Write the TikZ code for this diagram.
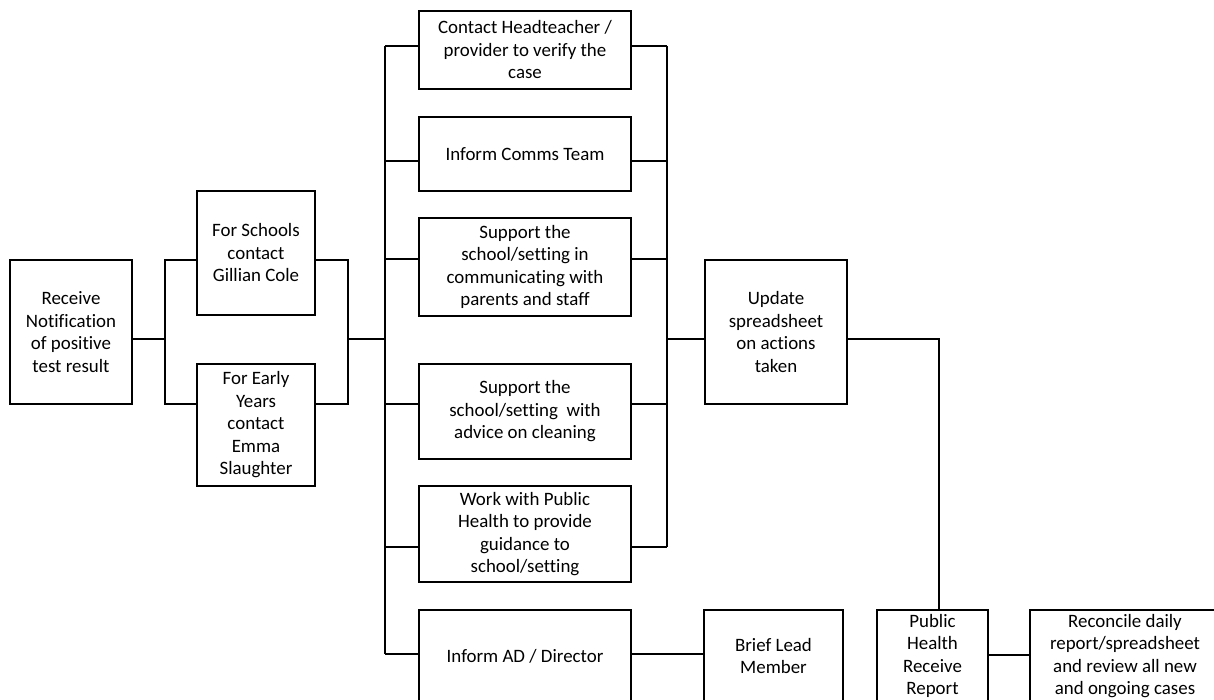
\documentclass[tikz,border=0pt]{standalone}
\usepackage{fontspec}
\setmainfont{Carlito}[Ligatures=NoCommon]
\begin{document}
\begin{tikzpicture}[x=1pt,y=-1pt,
  box/.style={draw,line width=2.3pt,inner sep=0pt,align=center,
    font=\fontsize{18.9}{22.5}\selectfont},
  conn/.style={line width=2.3pt}]
\useasboundingbox (0,0) rectangle (1214,700);
% boxes
\node[box,minimum width=122,minimum height=144] (rec) at (71,332) {Receive\\Notification\\of positive\\test result};
\node[box,minimum width=118,minimum height=124] (sch) at (256,253) {For Schools\\contact\\Gillian Cole};
\node[box,minimum width=118,minimum height=122] (ey) at (256,425) {For Early\\Years\\contact\\Emma\\Slaughter};
\node[box,minimum width=212,minimum height=78] (c1) at (525,50) {Contact Headteacher /\\provider to verify the\\case};
\node[box,minimum width=212,minimum height=74] (c2) at (525,154) {Inform Comms Team};
\node[box,minimum width=212,minimum height=98] (c3) at (525,267) {Support the\\school/setting in\\communicating with\\parents and staff};
\node[box,minimum width=212,minimum height=95] (c4) at (525,411.5) {Support the\\school/setting\ \ with\\advice on cleaning};
\node[box,minimum width=212,minimum height=96] (c5) at (525,534) {Work with Public\\Health to provide\\guidance to\\school/setting};
\node[box,minimum width=212,minimum height=92] (c6) at (525,656) {Inform AD / Director};
\node[box,minimum width=142,minimum height=144] (upd) at (776,332) {Update\\spreadsheet\\on actions\\taken};
\node[box,minimum width=139,minimum height=92] (brief) at (773.5,656) {Brief Lead\\Member};
\node[box,minimum width=111,minimum height=92] (ph) at (932.5,656) {Public\\Health\\Receive\\Report};
\node[box,minimum width=190,minimum height=92] (recon) at (1125,656) {Reconcile daily\\report/spreadsheet\\and review all new\\and ongoing cases};
% junction coordinates
\coordinate (a1) at (165,260);
\coordinate (a2) at (165,404);
\coordinate (j1) at (165,339);
\coordinate (b1) at (348,260);
\coordinate (b2) at (348,404);
\coordinate (j2) at (348,339);
\coordinate (j3) at (385,339);
\coordinate (L1) at (385,46);
\coordinate (L2) at (385,161);
\coordinate (L3) at (385,259);
\coordinate (L4) at (385,404);
\coordinate (L5) at (385,547);
\coordinate (L6) at (385,654);
\coordinate (R1) at (667,46);
\coordinate (R2) at (667,161);
\coordinate (R3) at (667,259);
\coordinate (R4) at (667,404);
\coordinate (R5) at (667,547);
\coordinate (Rj) at (667,339);
\coordinate (k) at (939,339);
\coordinate (m) at (700,654);
\coordinate (n) at (1000,655);
% connectors
\draw[conn] (rec.east |- j1) -- (j1);
\draw[conn] (sch.west |- a1) -- (a1) -- (a2) -- (ey.west |- a2);
\draw[conn] (sch.east |- b1) -- (b1) -- (b2) -- (ey.east |- b2);
\draw[conn] (j2) -- (j3);
\draw[conn] (L1) -- (L6);
\draw[conn] (L1) -- (c1.west |- L1);
\draw[conn] (L2) -- (c2.west |- L2);
\draw[conn] (L3) -- (c3.west |- L3);
\draw[conn] (L4) -- (c4.west |- L4);
\draw[conn] (L5) -- (c5.west |- L5);
\draw[conn] (L6) -- (c6.west |- L6);
\draw[conn] (R1) -- (R5);
\draw[conn] (c1.east |- R1) -- (R1);
\draw[conn] (c2.east |- R2) -- (R2);
\draw[conn] (c3.east |- R3) -- (R3);
\draw[conn] (c4.east |- R4) -- (R4);
\draw[conn] (c5.east |- R5) -- (R5);
\draw[conn] (Rj) -- (upd.west |- Rj);
\draw[conn] (upd.east |- k) -- (k) -- (k |- ph.north);
\draw[conn] (c6.east |- m) -- (brief.west |- m);
\draw[conn] (ph.east |- n) -- (recon.west |- n);
\end{tikzpicture}
\end{document}
